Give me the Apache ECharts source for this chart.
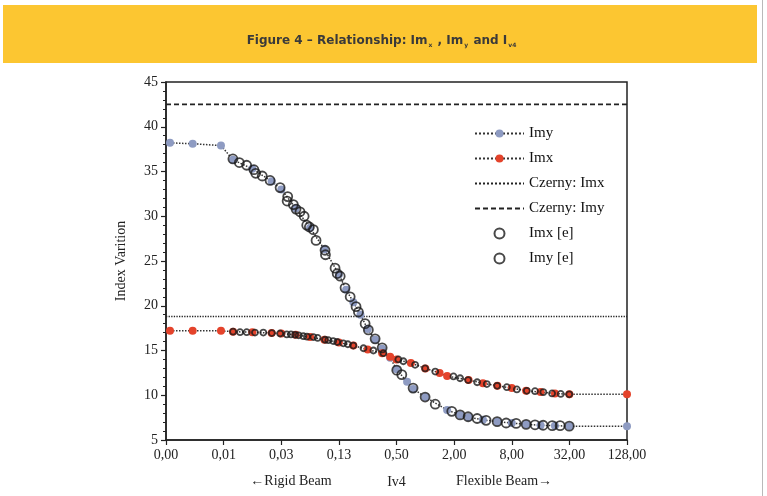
<!DOCTYPE html>
<html>
<head>
<meta charset="utf-8">
<script src="https://cdn.jsdelivr.net/npm/echarts@6/dist/echarts.min.js"></script>
<style>
  html, body { margin: 0; padding: 0; background: #fff; }
  #chart { width: 767px; height: 496px; }
</style>
</head>
<body>
<div id="chart"></div>
<script>
// x = Iv4 (log axis, base 4), y = index value
const xTickLabels = ['0,00', '0,01', '0,03', '0,13', '0,50', '2,00', '8,00', '32,00', '128,00']
const xMin = 1 / 512
const xMax = 128

const imyModelX = [0.00215, 0.00371, 0.00733, 0.0098, 0.0156, 0.0248, 0.0313, 0.0442, 0.0625, 0.0884, 0.125, 0.149, 0.177, 0.21, 0.25, 0.3, 0.354, 0.429, 0.5, 0.645, 0.75, 1.0, 1.69, 2.31, 2.83, 4.0, 5.66, 8.0, 11.3, 16, 22.6, 32, 128]
const imyModelY = [38.2, 38.1, 37.9, 36.3, 35.3, 33.9, 33.0, 30.9, 28.7, 26.3, 23.5, 21.8, 20.4, 19.0, 17.4, 16.2, 15.2, 14.2, 12.9, 11.5, 10.7, 9.8, 8.35, 7.8, 7.55, 7.25, 7.05, 6.9, 6.75, 6.65, 6.6, 6.55, 6.55]

const imxModelX = [0.00215, 0.00371, 0.00733, 0.0098, 0.0156, 0.0248, 0.0313, 0.0442, 0.0625, 0.0884, 0.125, 0.177, 0.25, 0.354, 0.429, 0.5, 0.707, 1.0, 1.41, 1.69, 2.83, 4.0, 5.66, 8.0, 11.3, 16, 22.6, 32, 128]
const imxModelY = [17.2, 17.2, 17.2, 17.1, 17.05, 16.95, 16.9, 16.75, 16.5, 16.2, 15.9, 15.55, 15.1, 14.7, 14.3, 14.0, 13.6, 13.0, 12.5, 12.15, 11.7, 11.35, 11.05, 10.8, 10.5, 10.35, 10.2, 10.1, 10.1]

const imxExpX = [0.0098, 0.0116, 0.0136, 0.0166, 0.0203, 0.0249, 0.0304, 0.0357, 0.0395, 0.0436, 0.0475, 0.0532, 0.058, 0.0677, 0.075, 0.0896, 0.097, 0.109, 0.12, 0.139, 0.155, 0.177, 0.226, 0.287, 0.365, 0.523, 0.59, 0.782, 0.995, 1.27, 1.97, 2.31, 2.80, 3.48, 4.39, 5.63, 7.11, 9.04, 11.5, 14.0, 17.1, 21.1, 26.0, 31.9]
const imxExpY = [17.1, 17.05, 17.05, 17.0, 17.0, 16.95, 16.9, 16.8, 16.8, 16.75, 16.7, 16.6, 16.55, 16.5, 16.4, 16.2, 16.15, 16.05, 15.95, 15.8, 15.7, 15.55, 15.25, 15.0, 14.7, 14.0, 13.8, 13.4, 13.0, 12.65, 12.1, 11.9, 11.7, 11.45, 11.25, 11.05, 10.9, 10.65, 10.5, 10.45, 10.35, 10.2, 10.15, 10.1]

const imyExpX = [0.00977, 0.0114, 0.0136, 0.0162, 0.0169, 0.0198, 0.0239, 0.0304, 0.0360, 0.0365, 0.0418, 0.0446, 0.0491, 0.0542, 0.0577, 0.0615, 0.0677, 0.0722, 0.0896, 0.0905, 0.114, 0.120, 0.129, 0.145, 0.164, 0.189, 0.200, 0.235, 0.254, 0.299, 0.354, 0.503, 0.568, 0.745, 0.995, 1.27, 1.89, 2.31, 2.80, 3.48, 4.32, 5.63, 6.99, 8.89, 11.3, 14.0, 17.0, 21.2, 25.6, 31.9]
const imyExpY = [36.4, 36.0, 35.7, 35.2, 34.8, 34.5, 34.0, 33.2, 31.7, 32.2, 31.3, 30.8, 30.5, 30.0, 29.0, 28.8, 28.5, 27.3, 26.2, 25.7, 24.2, 23.6, 23.3, 22.0, 21.0, 19.9, 19.3, 18.0, 17.3, 16.3, 15.3, 12.8, 12.3, 10.8, 9.8, 9.0, 8.2, 7.8, 7.6, 7.4, 7.2, 7.05, 6.9, 6.85, 6.75, 6.7, 6.65, 6.6, 6.6, 6.55]

const czernyImx = 18.8
const czernyImy = 42.5

// position on the axis: number of factor-4 steps above xMin
const pos = v => Math.log(v / xMin) / Math.log(4)
const pairs = (xs, ys) => xs.map((x, i) => [pos(x), ys[i]])

const serif = '"Liberation Serif", "DejaVu Serif", serif'
const blue = '#8e9bc2'
const red = '#e4432b'

const chart = echarts.init(document.getElementById('chart'))

const option = {
  animation: false,
  backgroundColor: '#fff',
  graphic: [
    { type: 'rect', left: 3, top: 5, shape: { width: 754, height: 58 }, style: { fill: '#fcc631' }, z: -1 },
    { type: 'rect', left: 762, top: 0, shape: { width: 1, height: 496 }, style: { fill: '#b9b9b9' } },
    {
      type: 'text', x: 382, y: 41,
      style: {
        text: '{t|Figure 4 – Relationship: Im}{s|x}{t| , Im}{s|y}{t| and I}{s|v4}',
        align: 'center', verticalAlign: 'middle',
        rich: {
          t: { fontFamily: '"DejaVu Sans", sans-serif', fontSize: 12, fontWeight: 'bold', fill: '#3a3a3a' },
          s: { fontFamily: '"DejaVu Sans", sans-serif', fontSize: 6, fontWeight: 'bold', fill: '#3a3a3a', padding: [9, 1, 0, 1] }
        }
      }
    },
    { type: 'text', x: 291, y: 481, style: { text: '←Rigid Beam', font: '14px ' + serif, fill: '#222', align: 'center', verticalAlign: 'middle' } },
    { type: 'text', x: 504, y: 481, style: { text: 'Flexible Beam→', font: '14px ' + serif, fill: '#222', align: 'center', verticalAlign: 'middle' } }
  ],
  grid: {
    left: 166, right: 140, top: 82, bottom: 56,
    show: true, borderColor: '#222', borderWidth: 1.5
  },
  legend: {
    orient: 'vertical',
    left: 469, top: 121,
    itemWidth: 49, itemHeight: 10, itemGap: 10,
    textStyle: { fontFamily: serif, fontSize: 15, color: '#111' },
    data: ['Imy', 'Imx', 'Czerny: Imx', 'Czerny: Imy', 'Imx [e]', 'Imy [e]']
  },
  xAxis: {
    type: 'value',
    min: pos(xMin), max: pos(xMax), interval: 1,
    name: 'Iv4', nameLocation: 'middle', nameGap: 35,
    nameTextStyle: { fontFamily: serif, fontSize: 14, color: '#222' },
    axisLine: { lineStyle: { color: '#222', width: 1.5 } },
    axisTick: { inside: false, length: 5, lineStyle: { color: '#222', width: 1.2 } },
    axisLabel: {
      fontFamily: serif, fontSize: 14, color: '#222', margin: 8,
      formatter: v => xTickLabels[Math.round(v)]
    },
    splitLine: { show: false }
  },
  yAxis: {
    type: 'value',
    min: 5, max: 45, interval: 5,
    name: 'Index Varition', nameLocation: 'middle', nameGap: 38,
    nameTextStyle: { fontFamily: serif, fontSize: 14, color: '#222' },
    axisLine: { show: true, lineStyle: { color: '#222', width: 1.5 } },
    axisTick: { inside: false, length: 5, lineStyle: { color: '#222', width: 1.2 } },
    minorTick: { show: true, splitNumber: 5, length: 3, lineStyle: { color: '#222', width: 1 } },
    axisLabel: { fontFamily: serif, fontSize: 14, color: '#222', margin: 8 },
    splitLine: { show: false }
  },
  series: [
    {
      name: 'Czerny: Imx', type: 'line', symbol: 'none',
      data: [[pos(xMin), czernyImx], [pos(xMax), czernyImx]],
      lineStyle: { color: '#222', width: 1.3, type: 'dotted' },
      itemStyle: { color: 'rgba(0,0,0,0)', borderColor: 'rgba(0,0,0,0)' },
      z: 1
    },
    {
      name: 'Czerny: Imy', type: 'line', symbol: 'none',
      data: [[pos(xMin), czernyImy], [pos(xMax), czernyImy]],
      lineStyle: { color: '#222', width: 1.6, type: [5, 3] },
      itemStyle: { color: 'rgba(0,0,0,0)', borderColor: 'rgba(0,0,0,0)' },
      z: 1
    },
    {
      name: 'Imy', type: 'line', symbol: 'circle', symbolSize: 8, showAllSymbol: true,
      data: pairs(imyModelX, imyModelY),
      lineStyle: { color: '#333', width: 1.5, type: 'dotted' },
      itemStyle: { color: blue, borderWidth: 0 },
      z: 2
    },
    {
      name: 'Imx', type: 'line', symbol: 'circle', symbolSize: 8, showAllSymbol: true,
      data: pairs(imxModelX, imxModelY),
      lineStyle: { color: '#333', width: 1.5, type: 'dotted' },
      itemStyle: { color: red, borderWidth: 0 },
      z: 2
    },
    {
      name: 'Imx [e]', type: 'scatter', symbol: 'circle', symbolSize: 6,
      data: pairs(imxExpX, imxExpY),
      itemStyle: { color: 'rgba(255,255,255,0)', borderColor: '#1a1a1a', borderWidth: 1.8 },
      z: 3
    },
    {
      name: 'Imy [e]', type: 'scatter', symbol: 'circle', symbolSize: 9,
      data: pairs(imyExpX, imyExpY),
      itemStyle: { color: 'rgba(255,255,255,0)', borderColor: '#1a1a1a', borderWidth: 1.8 },
      z: 3
    }
  ]
}

chart.setOption(option)
</script>
</body>
</html>
